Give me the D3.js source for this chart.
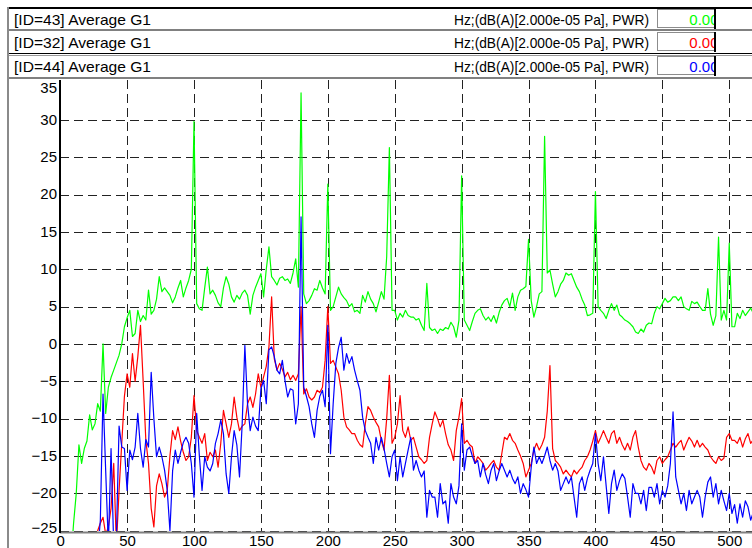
<!DOCTYPE html>
<html>
<head>
<meta charset="utf-8">
<script src="https://cdn.jsdelivr.net/npm/d3@7/dist/d3.min.js"></script>
<style>
body { margin: 0; background: #fff; }
svg { display: block; font-family: "Liberation Sans", Arial, sans-serif; }
</style>
</head>
<body>
<svg id="chart" width="752" height="548"></svg>
<script>
// channel header rows
var rowLabels = ["[ID=43] Average G1", "[ID=32] Average G1", "[ID=44] Average G1"];
var rowUnits = "Hz;(dB(A)[2.000e-05 Pa], PWR)";
var rowValues = ["0.00", "0.00", "0.00"];
var rowColors = ["#00ff00", "#ff0000", "#0000ff"];

// axes
var xTicks = [0, 50, 100, 150, 200, 250, 300, 350, 400, 450, 500];
var yTicks = [-25, -20, -15, -10, -5, 0, 5, 10, 15, 20, 25, 30, 35];

// spectra, one value every 2 Hz from 0 to 518 Hz
var freqStep = 2;
var green43 = [
	-30,-30,-30,-30,-29,-24,-20,-13.5,-16,-14,
	-13,-9.5,-11.5,-10.7,-8,-9,0,-9.3,-5.8,-4.5,
	-3.5,-2.5,-1.5,0,2.3,3.5,4.5,1,1.4,4.5,
	3,3.8,3.2,7.2,4,4.5,6,9,7,7.5,
	7,6.5,5.5,6.3,7.5,8.5,6.3,7.5,8.5,10,
	29.8,5.4,4.7,4.5,7.5,10.3,6.7,7.2,6.5,5.5,
	5,7.5,9,8,6.3,5.6,6.5,6,6.8,7.2,
	6.5,4,6.5,7.6,8.5,9.4,6.3,10,13,9,
	8.5,7.9,8.8,9,8.5,8.7,8.1,9.5,11.4,7.6,
	33.6,6.7,5.4,5.8,6.5,7.4,7.2,8.5,7.5,6.7,
	21.4,4.5,5,6.3,7.6,6.7,6.2,5.8,5,5.4,
	4.3,4.5,4.1,6.5,5.6,7,6,5.4,4.3,5.6,
	7,6,11.7,26.3,4.5,4.5,3.2,4.1,3.6,4.5,
	3.8,3.6,3.6,3.2,3.4,2.5,1.8,8.1,2.2,1.8,
	2,1.4,2,1.8,2.2,2,2.9,2.3,0.9,3.2,
	22.5,3.2,2.5,1.8,3,4.1,4.5,4.7,3.8,3.2,
	3.6,3,3.8,2.8,4.2,5.2,5.8,6.1,5,6.8,
	4.5,6.3,7.2,7.4,7.7,14,5.8,3.6,5,6.7,
	7,27.8,9.5,9.9,8,6.3,7,8,8.5,9.5,
	9.2,9.4,8.5,7.6,7,6,5.2,3.8,3.9,4.1,
	20.4,5,4.5,4.1,3.4,4.5,5.4,4.5,5.2,3.9,
	3.6,3.2,3,2.7,2.3,1.6,1.4,2,1.6,2.5,
	2.8,2.7,4.1,5,4.7,5.4,6.1,5.6,5.8,6.3,
	6.3,5.8,6.3,5,4.7,4.5,5.7,5.4,5.6,5,
	4.5,4.5,7.4,4,2.5,3.8,14.3,3.2,4.5,3.2,
	13.5,2.3,2.3,4.1,3.4,4.5,3.8,4.3,4.8,4.1
];
var red32 = [
	-32,-32,-32,-32,-32,-32,-32,-32,-32,-32,
	-32,-32,-32,-30,-25,-24,-23.2,-25.5,-24.5,-22,
	-16,-27,-19.6,-13.3,-7,-4,-5.8,-1.3,-5,-1.7,
	2.5,-5,-12.9,-16,-22,-24.5,-19,-17.4,-18.7,-20.5,
	-19.6,-15,-11.6,-12.8,-11.1,-13,-14.5,-15.6,-15.1,-12.5,
	-6.9,-11.6,-12.5,-13.3,-12,-15.6,-14.5,-15.1,-14.2,-16.5,
	-13.3,-8.9,-10.7,-12.5,-10.7,-7.1,-9.8,-11.6,-11,-10.7,
	-8,-7.1,-8.5,-6.7,-4,-5.8,-4.4,-3,-0.4,6.3,
	-2,-3.5,-2.6,-3.4,-4.4,-3.8,-4.8,-4.2,-4.9,-4,
	5,-6.7,-6,-7.1,-7.5,-7.1,-6.2,-6.5,-5.8,-2.2,
	5,-2.6,-2.2,-3.1,-4,-6.2,-9.8,-11.1,-11.5,-12,
	-12,-12.9,-13.5,-13.8,-10.7,-8.4,-8.9,-9.8,-10.5,-11.1,
	-12.9,-14.2,-10,-4.2,-13.3,-12.5,-10.7,-6.9,-11.6,-12.5,
	-11.1,-12.9,-12.5,-13.8,-15.1,-15.5,-16,-15.6,-12.5,-10.7,
	-9.1,-10,-11.1,-10.2,-12,-13.5,-14.2,-15.6,-11.6,-9.8,
	-7.3,-13.3,-12.9,-13.5,-13.8,-16,-15.1,-15.5,-16,-16.9,
	-16.5,-16,-15.6,-16.5,-16.9,-14.7,-12.5,-12.8,-12,-12.9,
	-13.3,-14.2,-15,-16,-17.8,-16.9,-16,-14.2,-13.3,-14.2,
	-13.5,-12.5,-9,-2.9,-14,-15.6,-16,-16.5,-17.4,-16.9,
	-17.4,-17.8,-16.9,-17.4,-16.9,-16.5,-15.6,-15.1,-14.2,-13,
	-11.6,-13.3,-12.5,-11.6,-12.5,-13.3,-12,-11.6,-13.3,-12.5,
	-13.5,-14.2,-13.3,-14.2,-12.5,-11.6,-13.8,-15.6,-16.5,-16.9,
	-16,-16.5,-17.4,-15.6,-15.1,-16,-15.5,-15.1,-14.2,-13.3,
	-13.8,-13.3,-12.9,-14.2,-13.3,-12.5,-13,-13.8,-12.9,-13.8,
	-13.3,-13.8,-14.2,-15.1,-15.6,-16,-15.1,-15.6,-15.3,-12.5,
	-12,-12.9,-12.9,-13.3,-12.5,-13.8,-12.7,-12,-13.3,-12.8
];
var blue44 = [
	-32,-32,-32,-32,-32,-32,-32,-32,-32,-32,
	-32,-32,-32,-32,-28,-23.6,-6.7,-17,-27,-14,
	-27,-26,-11,-13.8,-14,-19.6,-14.2,-15.5,-13.8,-9.3,
	-14,-16.5,-12.8,-13.8,-3.8,-10,-15.1,-13.8,-15.1,-16.9,
	-19.6,-25,-17,-14.2,-16,-14.5,-13.2,-12.5,-13.3,-16,
	-20.5,-9.3,-15,-19.6,-15.1,-16.5,-17,-16,-13.3,-12,
	-10.2,-12,-17.4,-20,-15.1,-11.6,-13.5,-17.8,-10.7,-0.2,
	-8,-11.6,-9.8,-11,-11.6,-6,-4.9,-8,-0.8,-0.4,
	-1.7,-3.5,-4,-2.2,-4.9,-7.1,-6,-6.2,-10.7,-8,
	17,-5.8,-7,-8.4,-10.7,-12.5,-8.9,-7,-6.2,-8.4,
	2.5,-14.7,-8,-2.6,-0.5,0.9,-3.5,-1.3,-2.6,-1.7,
	-3.5,-4.9,-6.2,-9.8,-11.6,-12.5,-13.3,-16,-12.5,-14.2,
	-12.5,-14,-16,-17.8,-15.1,-14.2,-18.3,-15.1,-17.8,-16,
	-14.2,-12.5,-16.9,-15.6,-16.9,-17.8,-17,-23.2,-19.6,-20.5,
	-20.5,-23.2,-18.7,-21.4,-21,-24,-18.7,-20.5,-21.4,-19,
	-10.7,-16.9,-14.2,-13.8,-15,-16,-15.6,-17.8,-16,-17.5,
	-18.7,-16.9,-16,-18.3,-17,-16,-16.9,-17.8,-16.9,-18,
	-18.7,-17.8,-20,-18.7,-19.5,-20.5,-16.5,-13.8,-16,-15.1,
	-16,-15,-13.8,-15.6,-16.9,-16,-17,-19.6,-18.7,-17.8,
	-18.7,-17.8,-20.5,-23.2,-18.7,-17.8,-19.6,-18,-16.9,-16,
	-12,-16,-18.3,-15.1,-19,-22.7,-18.7,-16.9,-19.6,-18.3,
	-17.4,-18,-20.5,-23.2,-18.7,-20,-20,-21.4,-19.6,-22.3,
	-19.2,-19.2,-20.5,-18.7,-21.4,-19.6,-20.5,-19,-16,-9.1,
	-17.8,-19.6,-21.4,-20,-22.3,-19.6,-21.4,-20.5,-19.6,-20.5,
	-23.2,-20.5,-18.5,-17.8,-20.5,-18.7,-21.4,-19.6,-21,-22.3,
	-20,-22.7,-21.5,-24,-21.4,-23.2,-21,-21.8,-23.6,-22.5
];

drawChart();

function drawChart() {

	var svg = d3.select("#chart");
	var plot = {left: 60, top: 80, right: 752, bottom: 531};

	var x = d3.scaleLinear().domain([0, 517]).range([60.2, 752]);
	var y = d3.scaleLinear().domain([-25, 35]).range([530.7, 82.5]);

	// header rows
	var rowTop = [9, 32, 56];
	var header = svg.selectAll(".row")
		.data(rowLabels)
	  .enter()
		.append("g")
		.attr("class", "row")
		.attr("transform", function(d, i) { return "translate(0," + rowTop[i] + ")"; });

	header.append("rect")
		.attr("x", 9).attr("y", 0)
		.attr("width", 743).attr("height", 21)
		.attr("fill", "#fff");
	header.append("text")
		.attr("x", 14).attr("y", 15.5)
		.attr("font-size", 15)
		.attr("textLength", 137)
		.attr("lengthAdjust", "spacingAndGlyphs")
		.text(function(d) { return d; });
	header.append("text")
		.attr("x", 454).attr("y", 15.5)
		.attr("font-size", 15)
		.attr("textLength", 195)
		.attr("lengthAdjust", "spacingAndGlyphs")
		.text(rowUnits);
	header.append("rect")
		.attr("x", 657.5).attr("y", 0.5)
		.attr("width", 57).attr("height", 18)
		.attr("fill", "none")
		.attr("stroke", "#8c8c8c");
	svg.append("clipPath").attr("id", "valclip")
	  .append("rect").attr("x", 658).attr("y", 0).attr("width", 56).attr("height", 80);
	header.append("text")
		.attr("clip-path", "url(#valclip)")
		.attr("x", 718.5).attr("y", 15.5)
		.attr("font-size", 15)
		.attr("text-anchor", "end")
		.attr("fill", function(d, i) { return rowColors[i]; })
		.text(function(d, i) { return rowValues[i]; });
	header.append("line")
		.attr("x1", 715).attr("x2", 715)
		.attr("y1", 0).attr("y2", 20)
		.attr("stroke", "#000").attr("stroke-width", 2);

	// frame lines
	var frame = svg.append("g");
	frame.append("line").attr("x1", 8).attr("x2", 752).attr("y1", 8).attr("y2", 8)
		.attr("stroke", "#000").attr("stroke-width", 2);
	frame.append("line").attr("x1", 8).attr("x2", 8).attr("y1", 7).attr("y2", 548)
		.attr("stroke", "#8a8a8a").attr("stroke-width", 2);
	frame.append("line").attr("x1", 9).attr("x2", 752).attr("y1", 30).attr("y2", 30)
		.attr("stroke", "#808080").attr("stroke-width", 2);
	frame.append("line").attr("x1", 9).attr("x2", 752).attr("y1", 53.5).attr("y2", 53.5)
		.attr("stroke", "#000").attr("stroke-width", 1);
	frame.append("line").attr("x1", 9).attr("x2", 752).attr("y1", 55.5).attr("y2", 55.5)
		.attr("stroke", "#999").attr("stroke-width", 1);
	frame.append("line").attr("x1", 9).attr("x2", 752).attr("y1", 78).attr("y2", 78)
		.attr("stroke", "#808080").attr("stroke-width", 2);

	// grid
	var grid = svg.append("g").attr("class", "grid");
	grid.selectAll(".hgrid")
		.data(yTicks.filter(function(d) { return d < 35; }))
	  .enter()
		.append("line")
		.attr("x1", plot.left).attr("x2", plot.right)
		.attr("y1", function(d) { return Math.round(y(d)) + 0.5; })
		.attr("y2", function(d) { return Math.round(y(d)) + 0.5; })
		.attr("stroke", "#222")
		.attr("stroke-dasharray", "9,5");
	grid.selectAll(".vgrid")
		.data(xTicks.filter(function(d) { return d > 0; }))
	  .enter()
		.append("line")
		.attr("x1", function(d) { return Math.round(x(d)) + 0.5; })
		.attr("x2", function(d) { return Math.round(x(d)) + 0.5; })
		.attr("y1", plot.top).attr("y2", plot.bottom)
		.attr("stroke", "#222")
		.attr("stroke-dasharray", "9,5");

	// spectra
	svg.append("clipPath").attr("id", "plotclip")
	  .append("rect")
		.attr("x", plot.left).attr("y", plot.top)
		.attr("width", plot.right - plot.left).attr("height", plot.bottom - plot.top);

	var line = d3.line()
		.x(function(d, i) { return x(i * freqStep); })
		.y(function(d) { return y(d); });

	var series = [green43, red32, blue44];
	svg.append("g")
		.attr("clip-path", "url(#plotclip)")
	  .selectAll("path")
		.data(series)
	  .enter()
		.append("path")
		.attr("d", line)
		.attr("fill", "none")
		.attr("stroke", function(d, i) { return rowColors[i]; })
		.attr("stroke-width", 1.2)
		.attr("stroke-linejoin", "round");

	// axis lines
	svg.append("line").attr("x1", plot.left).attr("x2", plot.right)
		.attr("y1", 532.5).attr("y2", 532.5)
		.attr("stroke", "#808080").attr("stroke-width", 2);
	svg.append("line").attr("x1", 60).attr("x2", 60)
		.attr("y1", plot.top).attr("y2", 533)
		.attr("stroke", "#000").attr("stroke-width", 2);

	// tick labels
	var yAxis = d3.axisLeft(y).tickValues(yTicks).tickSize(0).tickPadding(2);
	var gy = svg.append("g").attr("transform", "translate(59,0)").call(yAxis);
	gy.select(".domain").remove();
	gy.selectAll(".tick")
		.attr("transform", function(d) {
			return "translate(0," + Math.max(88, Math.min(528, y(d))) + ")";
		});
	gy.selectAll("text")
		.attr("font-size", 15)
		.attr("font-family", "Liberation Sans, Arial, sans-serif")
		.attr("fill", "#000");

	var xAxis = d3.axisBottom(x).tickValues(xTicks).tickSize(0).tickPadding(0);
	var gx = svg.append("g").attr("transform", "translate(0,535.5)").call(xAxis);
	gx.select(".domain").remove();
	gx.selectAll("text")
		.attr("font-size", 15)
		.attr("font-family", "Liberation Sans, Arial, sans-serif")
		.attr("fill", "#000")
		.attr("dy", "0.71em");
}
</script>
</body>
</html>
